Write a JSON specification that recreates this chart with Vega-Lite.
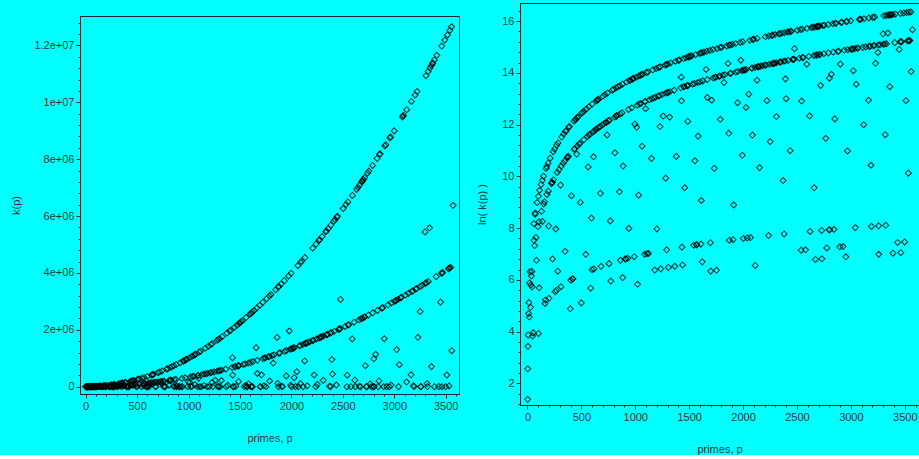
{
"$schema": "https://vega.github.io/schema/vega-lite/v6.json",
"background": "#00FFFF",
"padding": {"left": 10, "top": 2, "right": 0, "bottom": 0},
"spacing": 16,
"config": {
  "view": {"stroke": "#1a2a2a", "strokeWidth": 1},
  "font": "Liberation Sans",
  "axis": {"labelFont": "Liberation Sans", "titleFont": "Liberation Sans", "labelFontSize": 11, "titleFontSize": 11, "titleFontWeight": "normal", "labelColor": "#1f3838", "titleColor": "#1f3838", "domainColor": "#1a2a2a", "tickColor": "#1a2a2a", "grid": false, "labelPadding": 2, "labelOverlap": false, "labelFlush": false}
},
"data": {"values": [
{"p":2,"k":4},{"p":3,"k":13},{"p":5,"k":31},{"p":7,"k":48},{"p":11,"k":110},{"p":13,"k":168},{"p":17,"k":96},{"p":19,"k":360},{"p":23,"k":553},{"p":29,"k":140},{"p":31,"k":331},{"p":37,"k":469},{"p":41,"k":560},{"p":43,"k":308},{"p":47,"k":46},{"p":53,"k":52},{"p":59,"k":3541},{"p":61,"k":1860},{"p":67,"k":1519},{"p":71,"k":5113},{"p":73,"k":5328},{"p":79,"k":2080},{"p":83,"k":861},{"p":89,"k":8011},{"p":97,"k":3169},
{"p":101,"k":10200},{"p":103,"k":51},{"p":107,"k":3816},{"p":109,"k":297},{"p":113,"k":12883},{"p":127,"k":16128},{"p":131,"k":5720},{"p":137,"k":18907},{"p":139,"k":3864},{"p":149,"k":22200},{"p":151,"k":7600},{"p":157,"k":8269},{"p":163,"k":162},{"p":167,"k":186},{"p":173,"k":29928},{"p":179,"k":32221},{"p":181,"k":10981},{"p":191,"k":36673},{"p":193,"k":12416},{"p":197,"k":3234},{"p":199,"k":198},
{"p":211,"k":44520},{"p":223,"k":16651},{"p":227,"k":17176},{"p":229,"k":17557},{"p":233,"k":905},{"p":239,"k":57120},{"p":241,"k":19360},{"p":251,"k":63253},{"p":257,"k":256},{"p":263,"k":2882},{"p":269,"k":268},{"p":271,"k":73440},{"p":277,"k":25576},{"p":281,"k":564},{"p":283,"k":80088},{"p":293,"k":28616},
{"p":307,"k":15708},{"p":311,"k":310},{"p":313,"k":32761},{"p":317,"k":100807},{"p":331,"k":36631},{"p":337,"k":113568},{"p":347,"k":40136},{"p":349,"k":1218},{"p":353,"k":124963},{"p":359,"k":128880},{"p":367,"k":45019},{"p":373,"k":46376},{"p":379,"k":48007},{"p":383,"k":147073},{"p":389,"k":151711},{"p":397,"k":132},
{"p":401,"k":400},{"p":409,"k":10455},{"p":419,"k":418},{"p":421,"k":420},{"p":431,"k":185760},{"p":433,"k":62641},{"p":439,"k":64240},{"p":443,"k":196693},{"p":449,"k":202051},{"p":457,"k":52212},{"p":461,"k":212520},{"p":463,"k":71611},{"p":467,"k":218557},{"p":479,"k":76480},{"p":487,"k":79219},{"p":491,"k":8036},{"p":499,"k":166},
{"p":503,"k":253008},{"p":509,"k":259591},{"p":521,"k":271963},{"p":523,"k":91176},{"p":541,"k":1084},{"p":547,"k":299208},{"p":557,"k":103416},{"p":563,"k":31697},{"p":569,"k":323760},{"p":571,"k":108680},{"p":577,"k":111169},{"p":587,"k":293},{"p":593,"k":4396},{"p":599,"k":598},
{"p":601,"k":361200},{"p":607,"k":122816},{"p":613,"k":46971},{"p":617,"k":616},{"p":619,"k":127927},{"p":631,"k":132931},{"p":641,"k":411523},{"p":643,"k":138031},{"p":647,"k":419257},{"p":653,"k":427063},{"p":659,"k":434280},{"p":661,"k":145861},{"p":673,"k":150976},{"p":677,"k":11458},{"p":683,"k":682},{"p":691,"k":159391},
{"p":701,"k":491400},{"p":709,"k":167797},{"p":719,"k":517681},{"p":727,"k":176419},{"p":733,"k":179096},{"p":739,"k":109224},{"p":743,"k":552048},{"p":751,"k":188251},{"p":757,"k":756},{"p":761,"k":193040},{"p":769,"k":3942},{"p":773,"k":386},{"p":787,"k":619368},{"p":797,"k":636007},
{"p":809,"k":218160},{"p":811,"k":54810},{"p":821,"k":674040},{"p":823,"k":226051},{"p":827,"k":227976},{"p":829,"k":229357},{"p":839,"k":704761},{"p":853,"k":12127},{"p":857,"k":734448},{"p":859,"k":246247},{"p":863,"k":862},{"p":877,"k":256376},{"p":881,"k":777043},{"p":883,"k":441},{"p":887,"k":32782},
{"p":907,"k":906},{"p":911,"k":910},{"p":919,"k":844560},{"p":929,"k":928},{"p":937,"k":292656},{"p":941,"k":2952},{"p":947,"k":897757},{"p":953,"k":908208},{"p":967,"k":311696},{"p":971,"k":943813},{"p":977,"k":955507},{"p":983,"k":967273},{"p":991,"k":990},{"p":997,"k":165668},
{"p":1009,"k":1018080},{"p":1013,"k":146740},{"p":1019,"k":346120},{"p":1021,"k":340},{"p":1031,"k":10630},{"p":1033,"k":1067088},{"p":1039,"k":360200},{"p":1049,"k":1101450},{"p":1051,"k":368200},{"p":1061,"k":1126783},{"p":1063,"k":70623},{"p":1069,"k":1142760},{"p":1087,"k":1086},{"p":1091,"k":396760},{"p":1093,"k":398580},{"p":1097,"k":300852},
{"p":1103,"k":1217713},{"p":1109,"k":1108},{"p":1117,"k":1247688},{"p":1123,"k":1122},{"p":1129,"k":424880},{"p":1151,"k":44160},{"p":1153,"k":443520},{"p":1163,"k":1352568},{"p":1171,"k":457500},{"p":1181,"k":590},{"p":1187,"k":469656},{"p":1193,"k":1424443},
{"p":1201,"k":2885},{"p":1213,"k":490860},{"p":1217,"k":1481088},{"p":1223,"k":498576},{"p":1229,"k":151044},{"p":1231,"k":1515360},{"p":1237,"k":618},{"p":1249,"k":520000},{"p":1259,"k":226620},{"p":1277,"k":1632007},{"p":1279,"k":545707},{"p":1283,"k":20576},{"p":1289,"k":1661520},{"p":1291,"k":1290},{"p":1297,"k":560736},
{"p":1301,"k":1693903},{"p":1303,"k":566371},{"p":1307,"k":653},{"p":1319,"k":217470},{"p":1321,"k":581681},{"p":1327,"k":1760928},{"p":1361,"k":617440},{"p":1367,"k":683},{"p":1373,"k":1886503},{"p":1381,"k":47679},{"p":1399,"k":1957200},
{"p":1409,"k":1986691},{"p":1423,"k":675451},{"p":1427,"k":1018164},{"p":1429,"k":408408},{"p":1433,"k":1432},{"p":1439,"k":719},{"p":1447,"k":2093808},{"p":1451,"k":701800},{"p":1453,"k":704221},{"p":1459,"k":14191},{"p":1471,"k":2163840},{"p":1481,"k":731120},{"p":1483,"k":733591},{"p":1487,"k":184264},{"p":1489,"k":739537},{"p":1493,"k":2229048},{"p":1499,"k":2248501},
{"p":1511,"k":2284633},{"p":1523,"k":2321053},{"p":1531,"k":781320},{"p":1543,"k":1542},{"p":1549,"k":800317},{"p":1553,"k":40197},{"p":1559,"k":2430480},{"p":1567,"k":1566},{"p":1571,"k":1570},{"p":1579,"k":831080},{"p":1583,"k":104412},{"p":1597,"k":2550408},
{"p":1601,"k":854400},{"p":1607,"k":2584057},{"p":1609,"k":1608},{"p":1613,"k":8673},{"p":1619,"k":2621160},{"p":1621,"k":810},{"p":1627,"k":882376},{"p":1637,"k":2681407},{"p":1657,"k":1372824},{"p":1663,"k":2765568},{"p":1667,"k":926296},{"p":1669,"k":464260},{"p":1693,"k":2866248},{"p":1697,"k":1696},{"p":1699,"k":566},
{"p":1709,"k":417484},{"p":1721,"k":2963563},{"p":1723,"k":989576},{"p":1733,"k":30033},{"p":1741,"k":1010941},{"p":1747,"k":1017919},{"p":1753,"k":584},{"p":1759,"k":3094080},{"p":1777,"k":1052576},{"p":1783,"k":1059958},{"p":1787,"k":3195157},{"p":1789,"k":200033},
{"p":1801,"k":3243600},{"p":1811,"k":1093240},{"p":1823,"k":830832},{"p":1831,"k":1117521},{"p":1847,"k":3411408},{"p":1861,"k":1731660},{"p":1867,"k":116190},{"p":1871,"k":3502513},{"p":1873,"k":1872},{"p":1877,"k":3523128},{"p":1879,"k":1177507},{"p":1889,"k":1189440},
{"p":1901,"k":3615703},{"p":1907,"k":1906},{"p":1913,"k":7319},{"p":1931,"k":3728760},{"p":1933,"k":1245496},{"p":1949,"k":379860},{"p":1951,"k":1268801},{"p":1973,"k":3894703},{"p":1979,"k":1958220},{"p":1987,"k":1316056},{"p":1993,"k":49651},{"p":1997,"k":3988008},{"p":1999,"k":1332000},
{"p":2003,"k":2002},{"p":2011,"k":1348711},{"p":2017,"k":1356763},{"p":2027,"k":316212},{"p":2029,"k":1372957},{"p":2039,"k":2038},{"p":2053,"k":526851},{"p":2063,"k":4255968},{"p":2069,"k":2068},{"p":2081,"k":1443520},{"p":2083,"k":1446324},{"p":2087,"k":108889},{"p":2089,"k":4363920},{"p":2099,"k":4407901},
{"p":2111,"k":1485440},{"p":2113,"k":704},{"p":2129,"k":906528},{"p":2131,"k":4541160},{"p":2137,"k":1522969},{"p":2141,"k":1527960},{"p":2143,"k":1530865},{"p":2153,"k":30903},{"p":2161,"k":1557361},{"p":2179,"k":1583407},
{"p":2203,"k":1618471},{"p":2207,"k":4870848},{"p":2213,"k":1632456},{"p":2221,"k":411070},{"p":2237,"k":2236},{"p":2239,"k":5013120},{"p":2243,"k":1677016},{"p":2251,"k":84450},{"p":2267,"k":5141557},{"p":2269,"k":1716877},{"p":2273,"k":5166528},{"p":2281,"k":1735081},{"p":2287,"k":1743456},{"p":2293,"k":1752714},{"p":2297,"k":5278507},
{"p":2309,"k":222145},{"p":2311,"k":1780345},{"p":2333,"k":5445223},{"p":2339,"k":5470920},{"p":2341,"k":1826875},{"p":2347,"k":1836253},{"p":2351,"k":1842400},{"p":2357,"k":5557807},{"p":2371,"k":18739},{"p":2377,"k":1883503},{"p":2381,"k":2380},{"p":2383,"k":5678688},{"p":2389,"k":1902440},{"p":2393,"k":954408},{"p":2399,"k":442892},
{"p":2411,"k":5812920},{"p":2417,"k":1947296},{"p":2423,"k":5873353},{"p":2437,"k":59390},{"p":2441,"k":5958480},{"p":2447,"k":5990257},{"p":2459,"k":2015560},{"p":2467,"k":2029519},{"p":2473,"k":2039401},{"p":2477,"k":3067764},
{"p":2503,"k":6265008},{"p":2521,"k":2118480},{"p":2531,"k":6408493},{"p":2539,"k":1269},{"p":2543,"k":404178},{"p":2549,"k":6497400},{"p":2551,"k":2169200},{"p":2557,"k":2180269},{"p":2579,"k":1289},{"p":2591,"k":1678320},{"p":2593,"k":6723648},
{"p":2609,"k":2268960},{"p":2617,"k":228290},{"p":2621,"k":2620},{"p":2633,"k":6935323},{"p":2647,"k":7006608},{"p":2657,"k":2353216},{"p":2659,"k":14141},{"p":2663,"k":7094233},{"p":2671,"k":890},{"p":2677,"k":2389777},{"p":2683,"k":7198488},{"p":2687,"k":7222657},{"p":2689,"k":2411137},{"p":2693,"k":7254943},{"p":2699,"k":7287301},
{"p":2707,"k":2443519},{"p":2711,"k":7352233},{"p":2713,"k":2453456},{"p":2719,"k":739296},{"p":2729,"k":2728},{"p":2731,"k":910},{"p":2741,"k":7513080},{"p":2749,"k":2519000},{"p":2753,"k":7581763},{"p":2767,"k":95704},{"p":2777,"k":1388},{"p":2789,"k":7778520},{"p":2791,"k":2596560},{"p":2797,"k":2796},
{"p":2801,"k":980700},{"p":2803,"k":2802},{"p":2819,"k":1135654},{"p":2833,"k":8025888},{"p":2837,"k":2682856},{"p":2843,"k":2842},{"p":2851,"k":203205},{"p":2857,"k":8162448},{"p":2861,"k":8188183},{"p":2879,"k":2762880},{"p":2887,"k":2779219},{"p":2897,"k":1448},
{"p":2903,"k":1685482},{"p":2909,"k":8465191},{"p":2917,"k":8508888},{"p":2927,"k":1463},{"p":2939,"k":2879240},{"p":2953,"k":984},{"p":2957,"k":8746807},{"p":2963,"k":8782333},{"p":2969,"k":58766},{"p":2971,"k":2943271},{"p":2999,"k":8994000},
{"p":3001,"k":3002001},{"p":3011,"k":3022040},{"p":3019,"k":3039127},{"p":3023,"k":1305936},{"p":3037,"k":3075469},{"p":3041,"k":3040},{"p":3049,"k":774700},{"p":3061,"k":3124261},{"p":3067,"k":3136519},{"p":3079,"k":9480240},{"p":3083,"k":9507973},{"p":3089,"k":9545011},
{"p":3109,"k":3221960},{"p":3119,"k":162136},{"p":3121,"k":9740640},{"p":3137,"k":3280256},{"p":3163,"k":416857},{"p":3167,"k":10029888},{"p":3169,"k":3348577},{"p":3181,"k":3372920},{"p":3187,"k":33857},{"p":3191,"k":3190},
{"p":3203,"k":10259208},{"p":3209,"k":3432560},{"p":3217,"k":3450429},{"p":3221,"k":10378063},{"p":3229,"k":1737740},{"p":3251,"k":2642250},{"p":3253,"k":3527336},{"p":3257,"k":3256},{"p":3259,"k":1086},{"p":3271,"k":3567571},{"p":3299,"k":5441700},
{"p":3301,"k":3633301},{"p":3307,"k":10936248},{"p":3313,"k":3658656},{"p":3319,"k":110158},{"p":3323,"k":3322},{"p":3329,"k":11082240},{"p":3331,"k":3699631},{"p":3343,"k":5587824},{"p":3347,"k":11205757},{"p":3359,"k":11286241},{"p":3361,"k":706020},{"p":3371,"k":11367013},{"p":3373,"k":11377128},{"p":3389,"k":11488711},{"p":3391,"k":1130},
{"p":3407,"k":3869216},{"p":3413,"k":11651983},{"p":3433,"k":1716},{"p":3449,"k":2973900},{"p":3457,"k":3984769},{"p":3461,"k":11978520},{"p":3463,"k":1154},{"p":3467,"k":4006696},{"p":3469,"k":4012476},{"p":3491,"k":12190573},{"p":3499,"k":1749},
{"p":3511,"k":410904},{"p":3517,"k":12369288},{"p":3527,"k":4146576},{"p":3529,"k":4152623},{"p":3533,"k":24964},{"p":3539,"k":12524520},{"p":3541,"k":4179560},{"p":3547,"k":4194403},{"p":3557,"k":12655807},{"p":3559,"k":1266648},{"p":3571,"k":6376020}
]},
"hconcat": [
  {
    "spacing": 0,
    "vconcat": [
      {
        "data": {"values": []},
        "width": 379, "height": 12,
        "view": {"stroke": null},
        "mark": {"type": "point", "opacity": 0},
        "encoding": {}
      },
      {
        "width": 379, "height": 378,
        "mark": {"type": "point", "shape": "diamond", "size": 36, "filled": false, "stroke": "#000000", "strokeWidth": 1.1, "opacity": 0.75},
        "encoding": {
          "x": {"field": "p", "type": "quantitative",
                "scale": {"domain": [-55, 3629], "nice": false, "zero": false},
                "axis": {"values": [0,100,200,300,400,500,600,700,800,900,1000,1100,1200,1300,1400,1500,1600,1700,1800,1900,2000,2100,2200,2300,2400,2500,2600,2700,2800,2900,3000,3100,3200,3300,3400,3500,3600],
                         "format": "d",
                         "labelExpr": "datum.value % 500 == 0 ? datum.label : ''",
                         "tickSize": {"condition": {"test": "datum.value % 500 != 0", "value": 2}, "value": 4},
                         "title": "primes, p", "titlePadding": 21}},
          "y": {"field": "k", "type": "quantitative",
                "scale": {"domain": [-257000, 13034000], "nice": false, "zero": false},
                "axis": {"values": [0,400000,800000,1200000,1600000,2000000,2400000,2800000,3200000,3600000,4000000,4400000,4800000,5200000,5600000,6000000,6400000,6800000,7200000,7600000,8000000,8400000,8800000,9200000,9600000,10000000,10400000,10800000,11200000,11600000,12000000,12400000,12800000],
                         "labelExpr": "datum.value % 2000000 == 0 ? (datum.value == 0 ? '0' : replace(format(datum.value, '~e'), 'e+', 'e+0')) : ''",
                         "tickSize": {"condition": {"test": "datum.value % 2000000 != 0", "value": 2}, "value": 4},
                         "title": "k(p)", "titlePadding": 12}}
        }
      }
    ]
  },
  {
    "width": 399, "height": 402,
    "mark": {"type": "point", "shape": "diamond", "size": 36, "filled": false, "stroke": "#000000", "strokeWidth": 1.1, "opacity": 0.75},
    "encoding": {
      "x": {"field": "p", "type": "quantitative",
            "scale": {"domain": [-69, 3632], "nice": false, "zero": false},
            "axis": {"values": [0,100,200,300,400,500,600,700,800,900,1000,1100,1200,1300,1400,1500,1600,1700,1800,1900,2000,2100,2200,2300,2400,2500,2600,2700,2800,2900,3000,3100,3200,3300,3400,3500,3600],
                     "format": "d",
                     "labelExpr": "datum.value % 500 == 0 ? datum.label : ''",
                     "tickSize": {"condition": {"test": "datum.value % 500 != 0", "value": 2}, "value": 4},
                     "title": "primes, p", "titlePadding": 21}},
      "y": {"field": "k", "type": "quantitative",
            "scale": {"type": "log", "base": 2.718281828459045, "domain": [3.206, 17894400], "nice": false},
            "axis": {"values": [3.320117, 4.953032, 7.389056, 11.023176, 16.444647, 24.53253, 36.598234, 54.59815, 81.450869, 121.510418, 181.272242, 270.426407, 403.428793, 601.845038, 897.847292, 1339.430764, 1998.195895, 2980.957987, 4447.066748, 6634.244006, 9897.129059, 14764.781566, 22026.465795, 32859.625674, 49020.801136, 73130.441833, 109097.799277, 162754.791419, 242801.617498, 362217.449611, 540364.937247, 806129.75894, 1202604.284165, 1794074.772606, 2676445.055189, 3992786.83521, 5956538.013185, 8886110.520508, 13256519.140291],
                     "labelExpr": "abs(log(datum.value) / 2 - round(log(datum.value) / 2)) < 0.01 ? '' + round(log(datum.value)) : ''",
                     "tickSize": {"condition": {"test": "abs(log(datum.value) / 2 - round(log(datum.value) / 2)) >= 0.01", "value": 2}, "value": 4},
                     "title": "ln( k(p) )", "titlePadding": 14}}
    }
  }
]
}
